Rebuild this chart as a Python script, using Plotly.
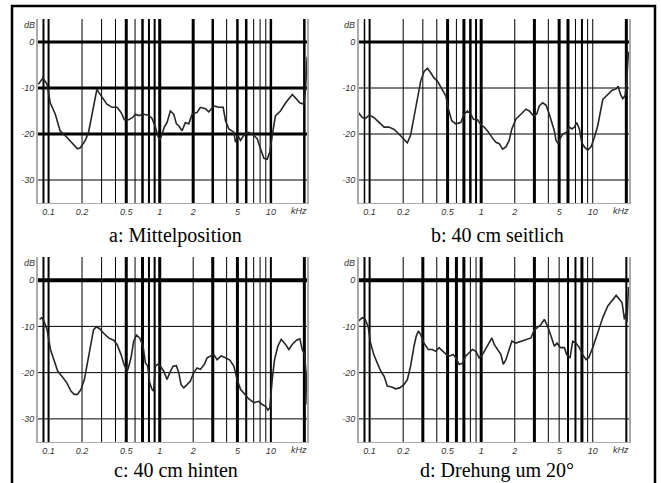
import plotly.graph_objects as go

W, H = 661, 483

# ---------------- data (frequency in kHz, level in dB) ----------------
freq_a = [0.081, 0.089, 0.097, 0.1035, 0.115, 0.127, 0.146, 0.162, 0.182, 0.193, 0.214, 0.229, 0.245,
          0.259, 0.272, 0.282, 0.302, 0.335, 0.372, 0.413, 0.449, 0.481, 0.526, 0.571, 0.604, 0.647,
          0.718, 0.796, 0.853, 0.914, 0.959, 1.0, 1.05, 1.10, 1.164, 1.247, 1.337, 1.413, 1.483, 1.589,
          1.702, 1.824, 1.955, 2.168, 2.323, 2.576, 2.761, 3.062, 3.40, 3.72, 3.91, 4.19, 4.64, 4.81,
          5.05, 5.33, 5.71, 6.21, 6.79, 7.53, 8.07, 8.65, 9.27, 9.79, 10.28, 11.0, 12.2, 13.6, 15.6,
          16.7, 18.2, 19.8, 20.5, 21.2]
db_a = [-9.2, -7.8, -9.2, -13.2, -15.7, -19.3, -20.7, -21.9, -23.2, -23.0, -21.4, -19.6, -15.7,
        -12.5, -10.3, -10.9, -11.9, -13.5, -14.2, -14.2, -15.3, -16.9, -16.9, -16.4, -15.7, -16.0,
        -15.7, -15.9, -16.6, -18.5, -20.3, -21.4, -20.0, -18.5, -17.5, -15.0, -15.7, -17.8, -18.2, -19.3,
        -17.5, -17.8, -15.7, -15.3, -14.2, -14.5, -15.2, -13.9, -14.2, -14.2, -17.1, -18.9, -19.6, -21.8,
        -20.3, -21.4, -20.3, -19.6, -20.0, -21.0, -23.2, -25.3, -25.5, -23.9, -20.3, -16.0, -15.0, -13.2, -11.4,
        -12.1, -13.2, -13.5, -10.3, -3.2]

freq_b = [0.079, 0.086, 0.092, 0.099, 0.109, 0.121, 0.135, 0.149, 0.166, 0.183, 0.203, 0.218, 0.233,
          0.250, 0.268, 0.287, 0.308, 0.330, 0.353, 0.378, 0.405, 0.450, 0.482, 0.509, 0.545, 0.592,
          0.656, 0.703, 0.754, 0.808, 0.853, 0.927, 0.993, 1.064, 1.164, 1.264, 1.355, 1.452, 1.556,
          1.667, 1.782, 1.884, 2.046, 2.270, 2.518, 2.698, 2.931, 3.141, 3.319, 3.556, 3.810, 4.083,
          4.315, 4.527, 4.688, 4.886, 5.092, 5.38, 5.84, 6.17, 6.52, 6.84, 7.18, 7.59, 7.96, 8.41,
          9.02, 9.66, 10.35, 11.09, 12.30, 13.65, 14.93, 16.22, 16.90, 17.74, 18.58, 19.50, 20.19, 20.89]
db_b = [-15.3, -16.4, -16.6, -15.9, -16.4, -17.5, -18.5, -18.5, -19.0, -20.0, -21.0, -21.9, -20.3,
        -16.4, -12.1, -8.5, -6.4, -5.7, -6.7, -7.8, -8.5, -10.3, -11.7, -14.6, -17.1, -17.8,
        -17.5, -15.7, -15.0, -15.7, -16.8, -16.9, -18.0, -18.5, -19.6, -20.9, -21.8, -22.1, -23.3,
        -22.8, -21.4, -18.9, -16.8, -15.7, -14.6, -15.0, -16.0, -15.7, -13.9, -13.2, -13.7, -15.7,
        -17.8, -19.3, -21.4, -22.1, -21.0, -20.0, -19.6, -18.5, -18.9, -18.5, -17.5, -18.9, -21.8, -22.8,
        -23.5, -22.8, -20.7, -18.2, -12.5, -11.4, -10.5, -10.2, -9.6, -11.4, -12.3, -11.7, -8.2, -2.1]

freq_c = [0.083, 0.087, 0.091, 0.097, 0.104, 0.111, 0.121, 0.132, 0.146, 0.159, 0.170, 0.182, 0.196,
          0.210, 0.224, 0.240, 0.254, 0.269, 0.288, 0.313, 0.347, 0.385, 0.413, 0.449, 0.481, 0.515,
          0.552, 0.583, 0.617, 0.661, 0.708, 0.743, 0.780, 0.813, 0.853, 0.883, 0.914, 0.959, 1.014,
          1.087, 1.164, 1.231, 1.319, 1.413, 1.483, 1.556, 1.644, 1.762, 1.888, 2.023, 2.168, 2.323,
          2.523, 2.667, 2.858, 3.062, 3.285, 3.569, 3.906, 4.273, 4.641, 4.973, 5.33, 5.79, 6.34,
          7.03, 7.80, 8.36, 8.96, 9.40, 9.79, 10.28, 10.79, 11.56, 12.39, 13.55, 14.52, 15.56, 17.02,
          18.24, 19.14, 20.10, 20.94, 21.2]
db_c = [-8.5, -8.1, -8.9, -10.7, -15.0, -17.2, -19.7, -20.8, -22.2, -24.0, -24.7, -24.7, -23.6,
        -21.5, -17.9, -13.6, -10.7, -10.1, -10.5, -11.5, -12.5, -13.0, -13.9, -16.1, -18.5, -19.5,
        -16.8, -13.2, -11.9, -12.5, -14.3, -17.9, -18.6, -22.2, -23.6, -24.0, -18.6, -18.2, -18.6,
        -19.7, -21.5, -20.0, -18.6, -18.5, -20.0, -22.6, -23.3, -22.6, -21.8, -20.0, -19.0, -19.3,
        -18.2, -16.8, -16.4, -16.1, -17.2, -16.4, -16.8, -17.3, -18.6, -21.5, -23.6, -24.5, -25.7,
        -26.5, -26.2, -26.9, -27.3, -28.1, -27.6, -21.5, -17.2, -14.3, -12.8, -13.9, -15.0, -13.9, -13.0,
        -12.7, -15.0, -16.1, -21.5, -26.9]

freq_d = [0.079, 0.086, 0.091, 0.097, 0.102, 0.109, 0.117, 0.126, 0.135, 0.144, 0.158, 0.171, 0.186,
          0.203, 0.218, 0.233, 0.250, 0.262, 0.274, 0.287, 0.308, 0.336, 0.365, 0.392, 0.419, 0.450,
          0.488, 0.523, 0.561, 0.592, 0.634, 0.680, 0.728, 0.780, 0.836, 0.896, 0.960, 1.028, 1.087,
          1.164, 1.247, 1.309, 1.403, 1.503, 1.578, 1.667, 1.782, 1.884, 2.046, 2.270, 2.518, 2.793,
          2.992, 3.206, 3.436, 3.681, 3.945, 4.227, 4.529, 4.786, 5.129, 5.569, 5.84, 6.26, 6.61,
          7.08, 7.59, 8.13, 8.71, 9.20, 10.0, 11.09, 12.30, 13.65, 15.14, 16.22, 17.38, 18.34, 19.23,
          19.91, 20.3, 20.89]
db_d = [-8.9, -8.1, -8.4, -10.0, -13.6, -16.1, -17.9, -19.7, -20.8, -22.9, -23.1, -23.5, -23.3,
        -22.6, -21.5, -18.6, -14.3, -12.1, -11.0, -11.8, -13.7, -15.0, -15.0, -15.4, -14.6, -15.4,
        -16.1, -16.4, -16.1, -16.8, -18.2, -18.0, -16.4, -15.7, -15.0, -15.4, -16.8, -16.1, -15.0,
        -13.9, -12.5, -13.9, -15.0, -16.1, -18.2, -17.2, -15.0, -13.2, -13.6, -13.2, -12.8, -12.5,
        -10.8, -10.3, -9.6, -8.5, -10.0, -12.1, -14.3, -13.6, -14.6, -14.6, -16.1, -16.8, -13.2,
        -13.6, -14.6, -16.1, -17.2, -16.8, -14.6, -11.4, -8.1, -5.6, -4.2, -3.3, -4.2, -4.9, -8.5,
        -7.0, -9.0, -1.5]

grid_freqs = [0.09, 0.1, 0.2, 0.3, 0.4, 0.5, 0.6, 0.7, 0.8, 0.9, 1, 2, 3, 4, 5, 6, 7, 8, 9, 10, 20]
grid_db = [0, -10, -20, -30]
xtick_vals = [0.1, 0.2, 0.5, 1, 2, 5, 10]
xtick_text = ["0.1", "0.2", "0.5", "1", "2", "5", "10"]
ytick_vals = [0, -10, -20, -30]
ytick_text = ["0", "-10", "-20", "-30"]
captions = ["a: Mittelposition", "b: 40 cm seitlich", "c: 40 cm hinten", "d: Drehung um 20°"]

# ---------------- styling ----------------
XR = [-1.095, 1.325]   # log10 kHz
YR = [-35, 5]
panels = [
    dict(x=(38, 307), y=(19, 203), f=freq_a, d=db_a, cap=32,
         vw=[2, 2, 1, 1, 1, 3, 1, 2.5, 2, 2, 3, 3, 2.5, 1, 2.5, 2.5, 1, 1, 1, 2.5, 2.5], hw=[3, 3, 3, 1]),
    dict(x=(359, 629), y=(19, 203), f=freq_b, d=db_b, cap=32,
         vw=[1.5, 2, 1, 1, 1, 3, 1, 3, 2.5, 2, 3, 1, 3, 1, 3, 3, 1, 2, 1, 1, 3], hw=[3, 1, 1, 1]),
    dict(x=(38, 307), y=(257, 442), f=freq_c, d=db_c, cap=28,
         vw=[2, 2, 1, 1, 1, 3, 1, 3, 2, 2, 3, 1, 3, 1, 3, 2, 1, 1, 1, 2, 3], hw=[4, 1, 1, 1]),
    dict(x=(359, 629), y=(257, 442), f=freq_d, d=db_d, cap=28,
         vw=[2, 2, 1, 3, 1, 3, 3, 3, 1, 1, 3, 1, 3, 1, 1, 2, 2, 3, 1, 1, 2], hw=[4, 1, 1, 1]),
]

tickfont = dict(family="Liberation Sans, Arial", size=9, color="#333", style="italic")
fig = go.Figure()
layout = dict(width=W, height=H, margin=dict(l=0, r=0, t=0, b=0),
              paper_bgcolor="white", plot_bgcolor="white", showlegend=False)
annotations = []
shapes = []
xlo, xhi = 10 ** XR[0], 10 ** XR[1]

for i, p in enumerate(panels):
    n = "" if i == 0 else str(i + 1)
    xa, ya = "x" + n, "y" + n
    # vertical grid lines grouped by width
    for w in sorted(set(p["vw"])):
        xs, ys = [], []
        for f, ww in zip(grid_freqs, p["vw"]):
            if ww == w:
                xs += [f, f, None]
                ys += [YR[0], YR[1], None]
        fig.add_trace(go.Scatter(x=xs, y=ys, mode="lines", xaxis=xa, yaxis=ya,
                                 line=dict(color="black", width=w), hoverinfo="skip"))
    for g, w in zip(grid_db, p["hw"]):
        fig.add_trace(go.Scatter(x=[xlo, xhi], y=[g, g], mode="lines", xaxis=xa, yaxis=ya,
                                 line=dict(color="black", width=w), hoverinfo="skip"))
    fig.add_trace(go.Scatter(x=p["f"], y=p["d"], mode="lines", xaxis=xa, yaxis=ya,
                             line=dict(color="#262626", width=1.6)))
    x0, x1 = p["x"]
    y0, y1 = p["y"]
    layout["xaxis" + n] = dict(type="log", range=XR, domain=[x0 / W, x1 / W], anchor=ya,
                               showgrid=False, zeroline=False, showline=True, linecolor="#aaa",
                               linewidth=1, mirror=False, ticks="", tickvals=xtick_vals,
                               ticktext=xtick_text, tickfont=tickfont, fixedrange=True)
    layout["yaxis" + n] = dict(range=YR, domain=[1 - y1 / H, 1 - y0 / H], anchor=xa,
                               showgrid=False, zeroline=False, showline=True, linecolor="#aaa",
                               linewidth=2, mirror=True, ticks="", tickvals=ytick_vals,
                               ticktext=ytick_text, tickfont=tickfont, fixedrange=True)
    annotations.append(dict(text="dB", xref="paper", yref="paper", x=(x0 - 1.5) / W,
                            y=1 - (y0 + 5.5) / H, xanchor="right", yanchor="middle",
                            showarrow=False, font=tickfont))
    annotations.append(dict(text="kHz", xref="paper", yref="paper", x=(x1 - 8) / W,
                            y=1 - (y1 + 8) / H, xanchor="center", yanchor="middle",
                            showarrow=False, font=tickfont))
    cx = (x0 + x1) / 2 + 3
    annotations.append(dict(text=captions[i], xref="paper", yref="paper", x=cx / W,
                            y=1 - (y1 + p["cap"]) / H, xanchor="center", yanchor="middle",
                            showarrow=False,
                            font=dict(family="Liberation Serif, Times New Roman", size=20,
                                      color="black")))

shapes.append(dict(type="rect", xref="paper", yref="paper", x0=12 / W, x1=655 / W,
                   y0=-0.05, y1=1 - 6 / H, line=dict(color="black", width=2.5)))
layout["annotations"] = annotations
layout["shapes"] = shapes
fig.update_layout(**layout)
fig.write_html("out.html", config=dict(displayModeBar=False, staticPlot=True),
               post_script="document.body.style.margin='0';document.body.style.overflow='hidden';")
